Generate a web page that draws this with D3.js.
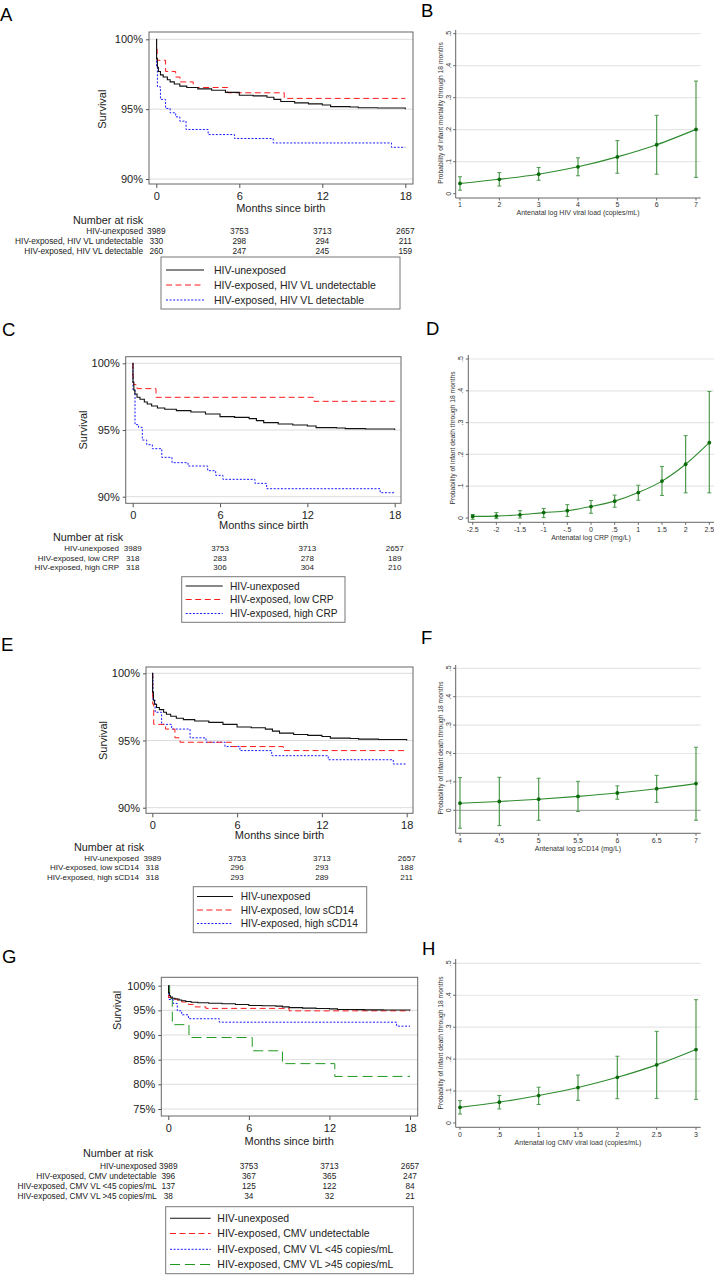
<!DOCTYPE html>
<html><head><meta charset="utf-8">
<script src="https://cdn.jsdelivr.net/npm/d3@7"></script>
<style>body{margin:0;background:#fff}svg{display:block}</style>
</head><body>
<svg id="fig" width="714" height="1275"></svg>
<script>
// ---------------- DATA ----------------
const monthTicks = [0, 6, 12, 18];
// Kaplan-Meier survival (%) : [month, survival]
const unexposedCurve = [[0,100],[0.02,98.6],[0.08,98.0],[0.15,97.7],[0.3,97.45],[0.5,97.3],[0.8,97.1],[1.0,96.95],[1.3,96.8],[1.7,96.65],[2.2,96.55],[3,96.45],[4,96.35],[5,96.2],[6,96.0],[7,95.95],[8,95.85],[8.5,95.7],[9,95.55],[10,95.45],[11,95.38],[12,95.3],[12.6,95.18],[14,95.15],[14.6,95.1],[16,95.08],[18,95.0]];
const vlUndetCurve = [[0,100],[0.02,99.3],[0.06,98.5],[0.67,97.7],[1.4,97.3],[1.71,96.95],[2.67,96.55],[5.16,96.17],[9.25,95.77],[18,95.77]];
const vlDetCurve = [[0,100],[0.02,98.0],[0.08,96.6],[0.3,95.7],[0.67,95.05],[1.0,94.74],[1.4,94.45],[1.7,94.14],[2.15,93.54],[3.75,93.18],[5.65,92.9],[8.45,92.58],[17.0,92.27],[18,92.27]];
const lowCrpCurve = [[0,100],[0.01,99.0],[0.05,98.4],[0.3,98.1],[1.6,97.45],[12.45,97.15],[18,97.15]];
const highCrpCurve = [[0,100],[0.02,98.0],[0.16,95.4],[0.4,95.2],[0.66,94.25],[0.96,93.9],[1.35,93.6],[2.0,92.95],[2.7,92.55],[3.8,92.3],[5.15,91.95],[5.7,91.6],[6.2,91.3],[8.4,91.0],[9.2,90.6],[17.0,90.3],[18,90.3]];
const lowCd14Curve = [[0,100],[0.03,97.7],[0.1,96.2],[0.94,95.85],[1.6,95.2],[1.96,94.87],[5.6,94.55],[9.27,94.25],[18,94.25]];
const highCd14Curve = [[0,100],[0.05,98.0],[0.2,97.1],[0.66,96.2],[1.37,95.85],[2.67,95.2],[3.8,94.87],[5.14,94.55],[6.2,94.25],[8.45,93.87],[12.45,93.57],[17.05,93.25],[18,93.25]];
const cmvUndetCurve = [[0,100],[0.02,97.6],[0.3,97.3],[0.7,97.0],[1.0,96.7],[1.5,96.2],[2.0,95.7],[2.8,95.4],[9.0,94.9],[18,94.9]];
const cmvLowCurve = [[0,100],[0.03,97.2],[0.37,96.4],[0.67,94.9],[1.0,94.1],[1.5,93.3],[3.8,92.6],[17.0,91.8],[18,91.8]];
const cmvHighCurve = [[0,100],[0.1,97.4],[0.3,92.1],[1.54,89.5],[6.25,86.8],[8.5,84.2],[12.4,81.6],[18,81.6]];

// Numbers at risk at 0, 6, 12, 18 months
const riskUnexposed = [3989, 3753, 3713, 2657];
const riskVlUndet = [330, 298, 294, 211];
const riskVlDet = [260, 247, 245, 159];
const riskLowCrp = [318, 283, 278, 189];
const riskHighCrp = [318, 306, 304, 210];
const riskLowCd14 = [318, 296, 293, 188];
const riskHighCd14 = [318, 293, 289, 211];
const riskCmvUndet = [396, 367, 365, 247];
const riskCmvLow = [137, 125, 122, 84];
const riskCmvHigh = [38, 34, 32, 21];

// Group labels
const labelsA = ["HIV-unexposed", "HIV-exposed, HIV VL undetectable", "HIV-exposed, HIV VL detectable"];
const labelsC = ["HIV-unexposed", "HIV-exposed, low CRP", "HIV-exposed, high CRP"];
const labelsE = ["HIV-unexposed", "HIV-exposed, low sCD14", "HIV-exposed, high sCD14"];
const labelsG = ["HIV-unexposed", "HIV-exposed, CMV undetectable", "HIV-exposed, CMV VL <45 copies/mL", "HIV-exposed, CMV VL >45 copies/mL"];

// Predicted probability panels
const hivVl = [1, 2, 3, 4, 5, 6, 7];
const hivVlProb = [0.032, 0.045, 0.061, 0.084, 0.115, 0.153, 0.201];
const hivVlLo = [0.011, 0.024, 0.042, 0.056, 0.064, 0.061, 0.051];
const hivVlHi = [0.053, 0.066, 0.082, 0.112, 0.166, 0.245, 0.352];

const crp = [-2.5, -2, -1.5, -1, -0.5, 0, 0.5, 1, 1.5, 2, 2.5];
const crpProb = [0.005, 0.006, 0.010, 0.017, 0.023, 0.036, 0.053, 0.080, 0.116, 0.169, 0.237];
const crpLo = [-0.004, -0.002, 0.000, 0.001, 0.005, 0.015, 0.034, 0.056, 0.071, 0.079, 0.079];
const crpHi = [0.011, 0.017, 0.023, 0.030, 0.042, 0.055, 0.072, 0.103, 0.162, 0.259, 0.398];

const cd14 = [4, 4.5, 5, 5.5, 6, 6.5, 7];
const cd14Prob = [0.025, 0.031, 0.039, 0.049, 0.061, 0.076, 0.094];
const cd14Lo = [-0.063, -0.054, -0.035, -0.004, 0.039, 0.028, -0.035];
const cd14Hi = [0.115, 0.116, 0.113, 0.102, 0.086, 0.123, 0.222];

const cmv = [0, 0.5, 1, 1.5, 2, 2.5, 3];
const cmvProb = [0.049, 0.065, 0.086, 0.111, 0.143, 0.182, 0.230];
const cmvLo = [0.028, 0.044, 0.058, 0.071, 0.076, 0.077, 0.074];
const cmvHi = [0.070, 0.086, 0.112, 0.150, 0.209, 0.287, 0.386];

const probTicks = [0, 0.1, 0.2, 0.3, 0.4, 0.5];

// ---------------- DRAWING ----------------
const FONT = "'Liberation Sans', Arial, Helvetica, sans-serif";
const svg = d3.select('#fig').attr('font-family', FONT);
const RED = '#ff1a1a', BLUE = '#1a1aff', GREEN = '#1f9a1f', BLACK = '#111';
const styles = [
  {color: BLACK, dash: null, w: 1.1},
  {color: RED, dash: '6,3.5', w: 1},
  {color: BLUE, dash: '2,1.6', w: 1},
  {color: GREEN, dash: '10,5', w: 1}
];

function panelLetter(t, x, y) {
  svg.append('text').attr('x', x).attr('y', y).text(t)
    .attr('font-family', FONT)
    .attr('font-size', 18.5).attr('fill', '#000');
}

function drawKM(c) {
  const g = svg.append('g');
  const [fx0, fx1, fy0, fy1] = c.frame;
  const x = d3.scaleLinear().domain([0, 18]).range(c.xr);
  const y = d3.scaleLinear().domain([c.yTicks[0], 100]).range(c.yr);
  g.append('g').selectAll('line').data(c.yTicks).join('line')
    .attr('x1', fx0).attr('x2', fx1).attr('y1', d => y(d)).attr('y2', d => y(d))
    .attr('stroke', '#dcdcdc').attr('stroke-width', 1);
  const line = d3.line().x(d => x(d[0])).y(d => y(d[1])).curve(d3.curveStepAfter);
  c.curves.map((d, i) => ({d, s: styles[i]})).reverse().forEach(({d, s}) => {
    g.append('path').attr('d', line(d)).attr('fill', 'none')
      .attr('stroke', s.color).attr('stroke-width', s.w)
      .attr('stroke-dasharray', s.dash);
  });
  g.append('rect').attr('x', fx0).attr('y', fy0).attr('width', fx1 - fx0).attr('height', fy1 - fy0)
    .attr('fill', 'none').attr('stroke', '#666').attr('stroke-width', 1);
  const ya = g.append('g').attr('transform', `translate(${fx0},0)`)
    .call(d3.axisLeft(y).tickValues(c.yTicks).tickFormat(d => d + '%').tickSize(3).tickPadding(3));
  ya.select('.domain').remove();
  ya.selectAll('line').attr('stroke', '#555');
  ya.selectAll('text').attr('font-size', 11).attr('fill', '#222').attr('font-family', FONT);
  const xa = g.append('g').attr('transform', `translate(0,${fy1})`)
    .call(d3.axisBottom(x).tickValues(monthTicks).tickSize(4).tickPadding(4));
  xa.select('.domain').remove();
  xa.selectAll('line').attr('stroke', '#555');
  xa.selectAll('text').attr('font-size', 11).attr('fill', '#222').attr('font-family', FONT);
  g.append('text').attr('transform', `translate(${c.survX},${y(95)}) rotate(-90)`)
    .attr('text-anchor', 'middle').attr('dy', '0.35em').attr('font-size', 11).attr('fill', '#222').text('Survival');
  g.append('text').attr('x', (x(0) + x(18)) / 2).attr('y', c.xTitleY).attr('dy', '0.35em')
    .attr('text-anchor', 'middle').attr('font-size', 11).attr('fill', '#222').text('Months since birth');
  // risk table
  g.append('text').attr('x', c.nrX).attr('y', c.nrY).attr('dy', '0.35em')
    .attr('font-size', 10.8).attr('fill', '#222').text('Number at risk');
  c.risk.forEach((row, i) => {
    const ry = c.rowY[i];
    g.append('text').attr('x', c.labelR).attr('y', ry).attr('dy', '0.35em').attr('text-anchor', 'end')
      .attr('font-size', c.tfs).attr('fill', '#222').text(c.labels[i]);
    g.selectAll(null).data(row).join('text')
      .attr('x', (d, j) => x(monthTicks[j])).attr('y', ry).attr('dy', '0.35em')
      .attr('text-anchor', 'middle').attr('font-size', c.tfs).attr('fill', '#222').text(d => d);
  });
  // legend
  const L = c.legend;
  g.append('rect').attr('x', L.x).attr('y', L.y).attr('width', L.w).attr('height', L.h)
    .attr('fill', '#fff').attr('stroke', '#777').attr('stroke-width', 1);
  c.labels.forEach((lab, i) => {
    const s = styles[i], ly = L.rows[i];
    g.append('line').attr('x1', L.lx0).attr('x2', L.lx1).attr('y1', ly).attr('y2', ly)
      .attr('stroke', s.color).attr('stroke-width', s.w).attr('stroke-dasharray', s.dash);
    g.append('text').attr('x', L.tx).attr('y', ly).attr('dy', '0.35em')
      .attr('font-size', L.fs).attr('fill', '#222').text(lab);
  });
}

// Stata-style tick labels: ".5", "-.5", "-2.5"
const stataFmt = v => String(+v.toFixed(2)).replace(/^(-?)0\./, '$1.');

function drawProb(c) {
  const g = svg.append('g');
  const x = d3.scaleLinear().domain(c.xd).range(c.xr);
  const y = d3.scaleLinear().domain([0, 0.5]).range(c.yr);
  const ax = c.axisX, by = c.axisY;
  g.append('g').selectAll('line').data(probTicks.slice(1)).join('line')
    .attr('x1', ax).attr('x2', c.right).attr('y1', d => y(d)).attr('y2', d => y(d))
    .attr('stroke', '#e6e6e6').attr('stroke-width', 1.2);
  if (c.zeroLine) {
    g.append('line').attr('x1', ax).attr('x2', c.right).attr('y1', y(0)).attr('y2', y(0))
      .attr('stroke', '#999').attr('stroke-width', 1);
  }
  // axes
  g.append('line').attr('x1', ax).attr('x2', ax).attr('y1', by).attr('y2', c.top).attr('stroke', '#666');
  g.append('line').attr('x1', ax).attr('x2', c.right).attr('y1', by).attr('y2', by).attr('stroke', '#666');
  g.selectAll(null).data(probTicks).join('line')
    .attr('x1', ax - 2.5).attr('x2', ax).attr('y1', d => y(d)).attr('y2', d => y(d)).attr('stroke', '#666');
  g.selectAll(null).data(probTicks).join('text')
    .attr('transform', d => `translate(${ax - 7.5},${y(d)}) rotate(-90)`)
    .attr('text-anchor', 'middle').attr('dy', '0.35em').attr('font-size', 7).attr('fill', '#333')
    .text(d => stataFmt(d));
  g.selectAll(null).data(c.xs).join('line')
    .attr('x1', d => x(d)).attr('x2', d => x(d)).attr('y1', by).attr('y2', by + 2.5).attr('stroke', '#666');
  g.selectAll(null).data(c.xs).join('text')
    .attr('x', d => x(d)).attr('y', by + 7).attr('dy', '0.35em').attr('text-anchor', 'middle')
    .attr('font-size', 7).attr('fill', '#333').text(d => stataFmt(d));
  g.append('text').attr('x', (x(c.xd[0]) + x(c.xd[1])) / 2).attr('y', by + 15).attr('dy', '0.35em')
    .attr('text-anchor', 'middle').attr('font-size', 7).attr('fill', '#333').text(c.xTitle);
  g.append('text').attr('transform', `translate(${ax - 15.5},${c.yTitleY}) rotate(-90)`)
    .attr('text-anchor', 'middle').attr('dy', '0.35em').attr('font-size', 6.7).attr('fill', '#333').text(c.yTitle);
  // CIs
  const CI = '#4e9a4e';
  c.xs.forEach((xv, i) => {
    const px = x(xv);
    g.append('line').attr('x1', px).attr('x2', px).attr('y1', y(c.lo[i])).attr('y2', y(c.hi[i]))
      .attr('stroke', CI).attr('stroke-width', 1.2);
    [c.lo[i], c.hi[i]].forEach(v => g.append('line').attr('x1', px - 2).attr('x2', px + 2)
      .attr('y1', y(v)).attr('y2', y(v)).attr('stroke', CI).attr('stroke-width', 1));
  });
  const pts = c.xs.map((v, i) => [v, c.p[i]]);
  g.append('path').attr('d', d3.line().x(d => x(d[0])).y(d => y(d[1])).curve(d3.curveMonotoneX)(pts))
    .attr('fill', 'none').attr('stroke', '#2e8b2e').attr('stroke-width', 1.1);
  g.selectAll(null).data(pts).join('circle')
    .attr('cx', d => x(d[0])).attr('cy', d => y(d[1])).attr('r', 1.9).attr('fill', '#0a6a0a');
}

// Panel A
panelLetter('A', 0, 21);
drawKM({frame: [149, 413, 32, 184], xr: [156.3, 405.3], yTicks: [90, 95, 100], yr: [179, 39.3],
  curves: [unexposedCurve, vlUndetCurve, vlDetCurve], survX: 102, xTitleY: 208,
  nrX: 73, nrY: 220, rowY: [231, 241, 251], labelR: 143, tfs: 8.3,
  risk: [riskUnexposed, riskVlUndet, riskVlDet], labels: labelsA,
  legend: {x: 161, y: 257, w: 239, h: 52, rows: [270, 285, 300], lx0: 166, lx1: 204, tx: 214, fs: 10.5}});
// Panel C
panelLetter('C', 2, 336);
drawKM({frame: [125.7, 401, 356.7, 503.3], xr: [132.7, 394.7], yTicks: [90, 95, 100], yr: [496.7, 363.3],
  curves: [unexposedCurve, lowCrpCurve, highCrpCurve], survX: 83, xTitleY: 525,
  nrX: 53, nrY: 537, rowY: [548.3, 557.7, 567], labelR: 119, tfs: 8,
  risk: [riskUnexposed, riskLowCrp, riskHighCrp], labels: labelsC,
  legend: {x: 181.7, y: 576.7, w: 163.3, h: 45.6, rows: [586, 599.5, 613.5], lx0: 185.7, lx1: 222.7, tx: 230, fs: 10.2}});
// Panel E
panelLetter('E', 1, 650.5);
drawKM({frame: [146, 413, 667, 813.3], xr: [152.3, 406.7], yTicks: [90, 95, 100], yr: [807.7, 673.3],
  curves: [unexposedCurve, lowCd14Curve, highCd14Curve], survX: 103, xTitleY: 835,
  nrX: 74, nrY: 847, rowY: [857.7, 867.3, 876.7], labelR: 139, tfs: 8,
  risk: [riskUnexposed, riskLowCd14, riskHighCd14], labels: labelsE,
  legend: {x: 193.3, y: 886.7, w: 173.4, h: 46, rows: [896.5, 910, 923.5], lx0: 197, lx1: 233, tx: 240.7, fs: 10.2}});
// Panel G
panelLetter('G', 2, 962.5);
drawKM({frame: [161.3, 417.7, 977.3, 1116], xr: [168.3, 410], yTicks: [75, 80, 85, 90, 95, 100], yr: [1109, 985.7],
  curves: [unexposedCurve, cmvUndetCurve, cmvLowCurve, cmvHighCurve], survX: 117, xTitleY: 1140.7,
  nrX: 83, nrY: 1153, rowY: [1165.7, 1175.7, 1186, 1196], labelR: 156.7, tfs: 8.3,
  risk: [riskUnexposed, riskCmvUndet, riskCmvLow, riskCmvHigh], labels: labelsG,
  legend: {x: 165.7, y: 1206.7, w: 247.6, h: 67, rows: [1218.3, 1233.5, 1249.3, 1264.5], lx0: 170, lx1: 210.7, tx: 217.3, fs: 10.5}});

// Panel B
panelLetter('B', 421, 16.5);
drawProb({xd: [1, 7], xr: [460, 696], xs: hivVl, yr: [193.7, 33.7], axisX: 455.7, axisY: 198, top: 30, right: 700.7,
  p: hivVlProb, lo: hivVlLo, hi: hivVlHi, yTitleY: 113,
  xTitle: 'Antenatal log HIV viral load (copies/mL)', yTitle: 'Probability of infant mortality through 18 months'});
// Panel D
panelLetter('D', 426, 335);
drawProb({xd: [-2.5, 2.5], xr: [472.7, 709.3], xs: crp, yr: [518, 359], axisX: 468.3, axisY: 522.3, top: 355, right: 714,
  p: crpProb, lo: crpLo, hi: crpHi, yTitleY: 438,
  xTitle: 'Antenatal log CRP (mg/L)', yTitle: 'Probability of infant death through 18 months'});
// Panel F
panelLetter('F', 421, 644);
drawProb({xd: [4, 7], xr: [460, 696], xs: cd14, yr: [810.3, 668.3], axisX: 455.7, axisY: 833.3, top: 665, right: 700.7,
  p: cd14Prob, lo: cd14Lo, hi: cd14Hi, yTitleY: 748, zeroLine: true,
  xTitle: 'Antenatal log sCD14 (mg/L)', yTitle: 'Probability of infant death through 18 months'});
// Panel H
panelLetter('H', 422, 955);
drawProb({xd: [0, 3], xr: [460, 696], xs: cmv, yr: [1123, 963.3], axisX: 455.7, axisY: 1127.3, top: 959, right: 700.7,
  p: cmvProb, lo: cmvLo, hi: cmvHi, yTitleY: 1043,
  xTitle: 'Antenatal log CMV viral load (copies/mL)', yTitle: 'Probability of infant death through 18 months'});
</script>
</body></html>
